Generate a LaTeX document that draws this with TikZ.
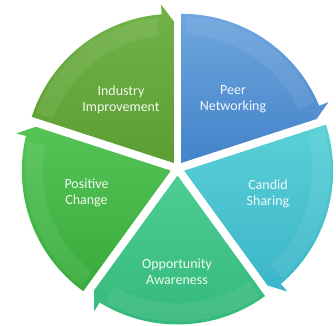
\documentclass[tikz,border=0pt]{standalone}
\usepackage{fontspec}
\setmainfont{Carlito}
\usetikzlibrary{calc}
\definecolor{indT}{HTML}{72B348}\definecolor{indB}{HTML}{5C9E33}
\definecolor{peerT}{HTML}{6EA6DE}\definecolor{peerB}{HTML}{4483CA}
\definecolor{canT}{HTML}{5AD0D6}\definecolor{canB}{HTML}{3BB5C9}
\definecolor{oppT}{HTML}{4CCE94}\definecolor{oppB}{HTML}{34B77A}
\definecolor{posT}{HTML}{55C356}\definecolor{posB}{HTML}{38AB3B}
\newcommand{\cycslice}[3]{%
  \pgfmathsetmacro{\sa}{#1}%
  \pgfmathsetmacro{\ea}{#1-72}%
  \pgfmathsetmacro{\ba}{#1-72+4.5}%
  \pgfmathsetmacro{\bis}{#1-36}%
  \begin{scope}[shift={(177.5bp,157.5bp)},shift={(\bis:7bp)}]
    \shade[top color=#2,bottom color=#3]
      (0,0) -- (\sa:149bp) arc[start angle=\sa,end angle=\ba,radius=149bp]
      -- (\ba:159bp) -- (\ea:142bp) -- cycle;
    \fill[white,opacity=0.07]
      (\sa-2:146bp) arc[start angle=\sa-2,end angle=\ba+2,radius=146bp]
      -- (\ba+2:128bp) arc[start angle=\ba+2,end angle=\sa-2,radius=128bp] -- cycle;
  \end{scope}}
\tikzset{lbl/.style={text=white,text opacity=0.92,align=center,inner sep=0pt,
  font=\fontsize{14bp}{16bp}\selectfont}}
\begin{document}
\begin{tikzpicture}[x=1bp,y=1bp]
\useasboundingbox (0,0) rectangle (336,326);
\cycslice{162}{indT}{indB}
\cycslice{90}{peerT}{peerB}
\cycslice{18}{canT}{canB}
\cycslice{-54}{oppT}{oppB}
\cycslice{-126}{posT}{posB}
\node[lbl] (ind) at (121,226) {Industry\\Improvement};
\node[lbl] (peer) at (233,227) {Peer\\Networking};
\node[lbl] (can) at (268,132) {Candid\\Sharing};
\node[lbl] (opp) at (177,54) {Opportunity\\Awareness};
\node[lbl] (pos) at (86.5,133) {Positive\\Change};
\end{tikzpicture}
\end{document}
